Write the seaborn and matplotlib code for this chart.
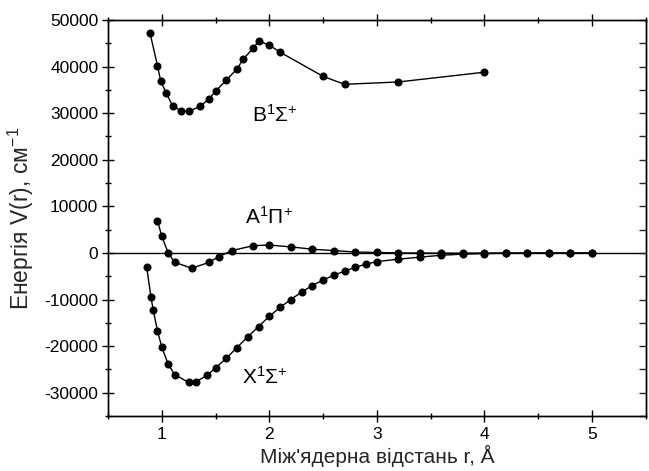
import numpy as np
import pandas as pd
import matplotlib
matplotlib.use("Agg")
import matplotlib.pyplot as plt
from matplotlib.ticker import MultipleLocator
import seaborn as sns

sns.set_theme(style="ticks")
plt.rcParams['font.family'] = ['Liberation Sans', 'DejaVu Sans']
plt.rcParams['mathtext.fontset'] = 'custom'
plt.rcParams['mathtext.rm'] = 'Liberation Sans'
plt.rcParams['mathtext.it'] = 'Liberation Sans'
plt.rcParams['mathtext.bf'] = 'Liberation Sans'
plt.rcParams['axes.unicode_minus'] = False

# B state
b_r = [0.89, 0.96, 0.99, 1.04, 1.10, 1.18, 1.25, 1.36, 1.44, 1.50, 1.60,
       1.70, 1.76, 1.85, 1.90, 2.00, 2.10, 2.50, 2.70, 3.20, 4.00]
b_v = [47300, 40200, 36900, 34400, 31600, 30500, 30400, 31500, 33100, 34700, 37100,
       39500, 41700, 43900, 45500, 44600, 43100, 37900, 36200, 36700, 38800]

# A state
a_r = [0.96, 1.00, 1.06, 1.12, 1.28, 1.44, 1.53, 1.65, 1.85, 2.00, 2.20, 2.40,
       2.60, 2.80, 3.00, 3.20, 3.40, 3.60, 3.80, 4.00, 4.20, 4.40, 4.60, 4.80, 5.00]
a_v = [6950, 3600, 0, -2000, -3300, -2000, -800, 500, 1550, 1700, 1300, 800,
       500, 200, 100, 0, -20, -60, -50, -40, -30, -20, -10, -5, 0]

# X state
x_r = [0.86, 0.90, 0.92, 0.96, 1.00, 1.06, 1.12, 1.25, 1.32, 1.42, 1.50, 1.60,
       1.70, 1.80, 1.90, 2.00, 2.10, 2.20, 2.30, 2.40, 2.50, 2.60, 2.70, 2.80,
       2.90, 3.00, 3.20, 3.40, 3.60, 3.80, 4.00, 4.20, 4.40, 4.60, 4.80, 5.00]
x_v = [-3100, -9500, -12200, -16700, -20200, -23900, -26100, -27800, -27600, -26300, -24700, -22600,
       -20300, -18000, -15800, -13600, -11700, -10000, -8400, -7000, -5800, -4800, -3900, -3100,
       -2400, -1850, -1350, -900, -500, -250, -130, -70, -40, -20, -10, 0]

state_names = ["B", "A", "X"]
state_labels = [r"B$^{1}$Σ$^{+}$", r"A$^{1}$Π$^{+}$", r"X$^{1}$Σ$^{+}$"]
label_pos = [(1.84, 29700), (1.77, 7700), (1.75, -26600)]

df = pd.concat([
    pd.DataFrame({"r": b_r, "V": b_v, "state": "B"}),
    pd.DataFrame({"r": a_r, "V": a_v, "state": "A"}),
    pd.DataFrame({"r": x_r, "V": x_v, "state": "X"}),
])

fig = plt.figure(figsize=(6.49, 4.71), dpi=100)
ax = fig.add_axes([0.1664, 0.1168, 0.9949 - 0.1664, 0.9575 - 0.1168])

ax.axhline(0, color="black", linewidth=1.0, zorder=1)

for name in state_names:
    sub = df[df["state"] == name]
    sns.lineplot(data=sub, x="r", y="V", sort=False, estimator=None, color="black",
                 linewidth=1.0, marker="o", markersize=5.8, markeredgewidth=0,
                 markerfacecolor="black", ax=ax, legend=False)

for lab, (lx, ly) in zip(state_labels, label_pos):
    ax.text(lx, ly, lab, fontsize=15, ha="left", va="center", color="black")

ax.set_xlim(0.5, 5.5)
ax.set_ylim(-35000, 50000)
ax.xaxis.set_major_locator(MultipleLocator(1))
ax.xaxis.set_minor_locator(MultipleLocator(0.5))
ax.yaxis.set_major_locator(MultipleLocator(10000))
ax.yaxis.set_minor_locator(MultipleLocator(5000))
ax.set_yticks(np.arange(-30000, 50001, 10000))

ax.tick_params(axis="x", which="both", direction="inout", top=True, bottom=True,
               labelsize=12.5, colors="black", pad=4)
ax.tick_params(axis="x", which="major", length=8, width=1)
ax.tick_params(axis="x", which="minor", length=5, width=1)
ax.tick_params(axis="y", which="both", direction="inout", left=True, right=False,
               labelsize=12.5, colors="black", pad=3)
ax.tick_params(axis="y", which="major", length=8, width=1)
ax.tick_params(axis="y", which="minor", length=5, width=1)

# right side ticks point inward only
ax_r = ax.twinx()
ax_r.set_ylim(ax.get_ylim())
ax_r.yaxis.set_major_locator(MultipleLocator(10000))
ax_r.yaxis.set_minor_locator(MultipleLocator(5000))
ax_r.tick_params(axis="y", which="both", direction="in", length=5, width=1,
                 labelright=False, right=True)

for a in (ax, ax_r):
    for s in a.spines.values():
        s.set_color("black")
        s.set_linewidth(1.0)

ax.set_xlabel("Між'ядерна відстань r, Å", fontsize=15, labelpad=2)
ax.set_ylabel("Енергія V(r), см$^{-1}$", fontsize=16.5, labelpad=6)

fig.savefig("out.png", dpi=100)
